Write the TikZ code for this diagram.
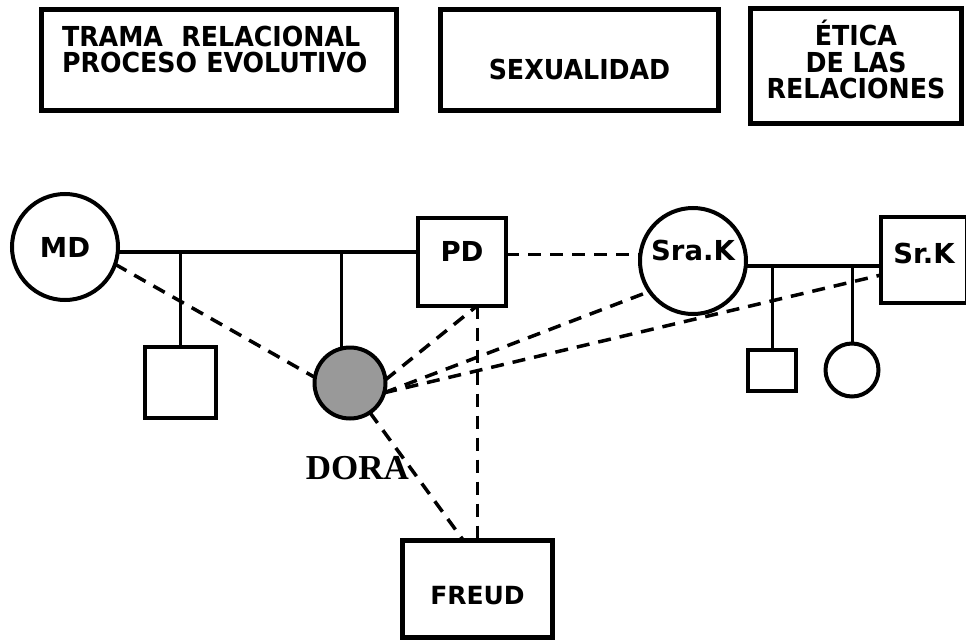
\documentclass[tikz,border=0pt]{standalone}
\usepackage{fontspec}
\setmainfont{DejaVu Sans}
\newfontfamily\topicface{DejaVu Sans}[FakeStretch=0.92]
\newfontfamily\doraface{Liberation Serif}

\begin{document}
\begin{tikzpicture}[x=1pt, y=-1pt,
    topic/.style={
        draw, line width=5pt, inner sep=0pt, outer sep=0pt,
        anchor=north west, align=center,
        font=\topicface\bfseries\fontsize{27.5}{25}\selectfont
    },
    man/.style={
        rectangle, draw, line width=4pt, inner sep=0pt, outer sep=0pt,
        font=\bfseries\fontsize{27.5}{27.5}\selectfont
    },
    woman/.style={man, circle},
    kin/.style={line width=4pt},
    child/.style={line width=3pt},
    link/.style={line width=3.5pt, dash pattern=on 13pt off 9pt},
]
\useasboundingbox (0,0) rectangle (966,642);

%% Top row: themes
\node[topic, align=left, inner xsep=20.5pt, text width=314pt,
      text height=37.5pt, text depth=63.5pt] (trama) at (41.5,9.5)
    {TRAMA\ \ RELACIONAL\\PROCESO EVOLUTIVO};
\node[topic, minimum width=278pt, text height=70.5pt, text depth=30.5pt] (sexo) at (440.5,9.5)
    {SEXUALIDAD};
\node[topic, minimum width=211pt, text height=90.5pt, text depth=24.5pt,
      font=\topicface\bfseries\fontsize{27.5}{27}\selectfont] (etica) at (750.5,8.5)
    {ÉTICA\\DE LAS\\RELACIONES};

%% Dora's family
\node[woman, minimum size=106pt] (MD) at (65,247) {MD};
\node[man, minimum size=88pt, text depth=21pt] (PD) at (462,261.5) {PD};
\node[man, minimum size=71pt] (son) at (180,382.5) {};
\node[woman, minimum size=71pt, fill=black!40] (dora) at (350,383) {};
\node[font=\doraface\bfseries\fontsize{35}{35}\selectfont, anchor=base] (doralbl) at (357.5,479) {DORA};

%% K family
\node[woman, minimum size=106pt, text depth=22pt] (sraK) at (693,261) {Sra.K};
\node[man, minimum size=86pt, text depth=14pt] (srK) at (924,260) {Sr.K};
\node[man, minimum width=48pt, minimum height=41pt] (kidA) at (772,370.5) {};
\node[woman, minimum size=53pt] (kidB) at (852,370) {};

%% Analyst
\node[man, line width=5pt, minimum width=150pt, minimum height=97pt,
      text height=32pt, font=\bfseries\fontsize{25}{25}\selectfont] (freud) at (477.5,589) {FREUD};

%% Marriage and descent lines
\coordinate (mdbar) at (MD.-5);
\coordinate (kbar) at (sraK.-5);
\draw[kin] (mdbar) -- (mdbar -| PD.west);
\draw[child] (son.north) -- (son.north |- mdbar);
\draw[child] (dora.104) -- (dora.104 |- mdbar);
\draw[kin] (kbar) -- (kbar -| srK.west);
\draw[child] (kidA.north) -- (kidA.north |- kbar);
\draw[child] (kidB.north) -- (kidB.north |- kbar);

%% Relations (dashed)
\coordinate (pdfoot) at (PD.south -| freud.north);
\draw[link] (MD.-19) -- (dora.171);
\draw[link] (PD.east |- sraK.173) -- (sraK.173);
\draw[link] (dora.5) -- (pdfoot);
\draw[link] (dora.-16) -- (sraK.215);
\draw[link] (dora.-16) -- ([yshift=-15pt]srK.west);
\draw[link] (dora.-56) -- ([xshift=-14pt]freud.north);
\draw[link] (pdfoot) -- (freud.north);

\end{tikzpicture}
\end{document}
